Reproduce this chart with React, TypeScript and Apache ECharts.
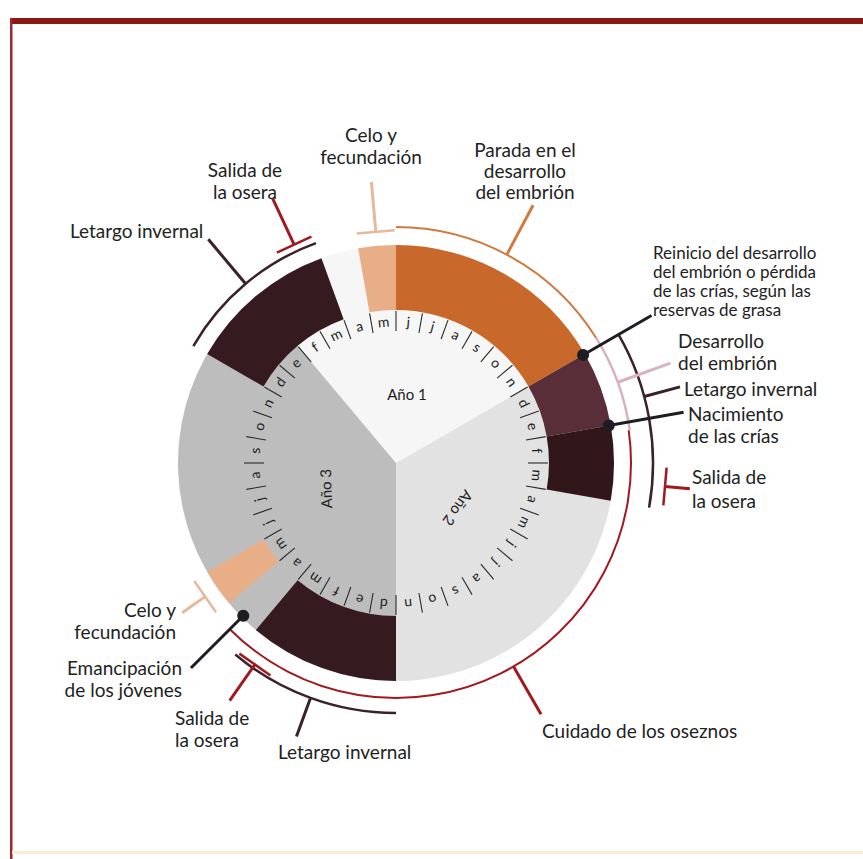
import React, { useEffect, useRef } from 'react';
import * as echarts from 'echarts';

// ---------------- data ----------------
// month index: 0 = start of January of "Año 1"; one full turn = 36 months
const monthLetters = ['e', 'f', 'm', 'a', 'm', 'j', 'j', 'a', 's', 'o', 'n', 'd'];
const yearNames = ['Año 1', 'Año 2', 'Año 3'];
const yearFrom = [1, 11, 23];
const yearTo = [11, 23, 37];
const yearLabelAt = [5.9, 17.6, 30.0];

// coloured season bands (month from / to)
const bandFrom = [-1, 4, 5, 11, 13, 23, 28];
const bandTo = [3, 5, 11, 13, 15, 27, 29];
const bandKind = ['letargo', 'celo', 'parada', 'desarrollo', 'nacimiento', 'letargo', 'celo'];

// outer period arcs
const arcFrom = [-1, 5, 10.8, 13.2, 11, 23];
const arcTo = [3, 10.8, 13.2, 27.5, 15, 27];
const arcKind = ['letargo', 'parada', 'desarrollo', 'cuidado', 'letargo', 'letargo'];

// single events drawn as "T" markers
const eventAt = [2.5, 4.5, 14.5, 26.5, 28.5];
const eventKind = ['salida', 'celo', 'salida', 'salida', 'celo'];

// events drawn as dots
const dotAt = [11, 13, 27.5];

// radial callout lines
const leaderAt = [1, 7.8, 11, 12, 12.5, 13, 20, 25, 27.5];
const leaderKind = ['letargo', 'parada', 'punto', 'desarrollo', 'letargo', 'punto', 'cuidado', 'letargo', 'punto'];

// label texts
const labelTexts = [
  'Celo y\nfecundación',
  'Parada en el\ndesarrollo\ndel embrión',
  'Reinicio del desarrollo\ndel embrión o pérdida\nde las crías, según las\nreservas de grasa',
  'Desarrollo\ndel embrión',
  'Letargo invernal',
  'Nacimiento\nde las crías',
  'Salida de\nla osera',
  'Cuidado de los oseznos',
  'Letargo invernal',
  'Salida de\nla osera',
  'Emancipación\nde los jóvenes',
  'Celo y\nfecundación',
  'Letargo invernal',
  'Salida de\nla osera',
];

// ---------------- layout / style ----------------
const CX = 396, CY = 463;
const R_MAX = 300;
const R_PIE = 218, R_BAND0 = 153, R_LETTER = 142, R_TICK0 = 132, R_TICK1 = 152, R_DOT = 216;
const FONT = 'Lato, "Open Sans", sans-serif';

const yearColors = ['#f6f6f6', '#e2e2e2', '#bdbdbd'];
const yearLabelR = [70, 77, 75];
const yearLabelRot = [0, 126, 268];

const bandColors: Record<string, string> = {
  letargo: '#351a20', celo: '#e8ae88', parada: '#c8682b', desarrollo: '#5a2e38', nacimiento: '#31161a',
};
const lineColors: Record<string, string> = {
  letargo: '#3b2128', parada: '#d27a3e', desarrollo: '#d8b2bf', cuidado: '#a3181e',
  salida: '#9e1a20', celo: '#e7b99c', punto: '#1d1d23',
};
const arcR = [234, 236, 236, 235, 257, 250];
const arcW = [2.5, 2, 2.5, 2, 2.5, 2.5];
const eventR0 = [241, 232, 270, 246, 233];
const eventR1 = [292, 282, 295, 290, 261];
const eventHalf = 19;
const leaderR0 = [234, 236, R_DOT, 236, 257, R_DOT, 235, 250, R_DOT];
const leaderR1 = [292, 292, 295, 292, 294, 292, 290, 291, 290];

// x, y, align, lineHeight, fontSize
const labelPos: [number, number, string, number, number][] = [
  [371, 145, 'center', 22, 19],
  [525, 170, 'center', 21, 19],
  [653, 281, 'left', 19, 17],
  [678, 351, 'left', 22, 19],
  [684, 388, 'left', 20, 19],
  [688, 424, 'left', 22, 19],
  [692, 488, 'left', 24, 19],
  [542, 730, 'left', 20, 19],
  [278, 751, 'left', 20, 19],
  [175, 728, 'left', 22, 19],
  [182, 678, 'right', 22, 19],
  [176, 620, 'right', 22, 19],
  [70, 230, 'left', 20, 19],
  [245, 180, 'center', 22, 19],
];

// ---------------- helpers (all through the polar scales) ----------------
function pt(api: any, m: number, r: number): number[] {
  const mm = ((m % 36) + 36) % 36;
  return api.coord([r, mm]);
}
function ang(p: number[], cx: number, cy: number) {
  return Math.atan2(p[1] - cy, p[0] - cx);
}
function sectorShape(api: any, cs: any, m0: number, m1: number, r0: number, r1: number) {
  const a = pt(api, m0, r1), b = pt(api, m1, r1), q = pt(api, m0, r0);
  const sa = ang(a, cs.cx, cs.cy);
  let ea = ang(b, cs.cx, cs.cy);
  while (ea <= sa + 1e-6) ea += Math.PI * 2;
  return {
    cx: cs.cx, cy: cs.cy,
    r0: Math.hypot(q[0] - cs.cx, q[1] - cs.cy),
    r: Math.hypot(a[0] - cs.cx, a[1] - cs.cy),
    startAngle: sa, endAngle: ea, clockwise: true,
  };
}
function idx(n: number) {
  return Array.from({ length: n }, (_, i) => [i, 0]);
}

export default function App() {
  const ref = useRef<HTMLDivElement>(null);
  useEffect(() => {
    if (!ref.current) return;
    const chart = echarts.init(ref.current, null, { renderer: 'svg' });
    const hidden = { show: false };
    const option: any = {
      animation: false,
      backgroundColor: '#ffffff',
      polar: { center: [CX, CY], radius: [0, R_MAX] },
      angleAxis: {
        type: 'value', min: 0, max: 36, startAngle: 140, clockwise: true,
        axisLine: hidden, axisTick: hidden, axisLabel: hidden, splitLine: hidden,
      },
      radiusAxis: {
        type: 'value', min: 0, max: R_MAX,
        axisLine: hidden, axisTick: hidden, axisLabel: hidden, splitLine: hidden,
      },
      series: [
        {
          type: 'custom', coordinateSystem: 'polar', name: 'años', silent: true,
          data: idx(yearNames.length),
          renderItem: (p: any, api: any) => ({
            type: 'sector',
            shape: sectorShape(api, p.coordSys, yearFrom[p.dataIndex], yearTo[p.dataIndex], 0, R_PIE),
            style: { fill: yearColors[p.dataIndex] },
          }),
        },
        {
          type: 'custom', coordinateSystem: 'polar', name: 'bandas', silent: true,
          data: idx(bandFrom.length),
          renderItem: (p: any, api: any) => ({
            type: 'sector',
            shape: sectorShape(api, p.coordSys, bandFrom[p.dataIndex], bandTo[p.dataIndex], R_BAND0, R_PIE),
            style: { fill: bandColors[bandKind[p.dataIndex]] },
          }),
        },
        {
          type: 'custom', coordinateSystem: 'polar', name: 'meses', silent: true,
          data: idx(36),
          renderItem: (p: any, api: any) => {
            const i = p.dataIndex;
            const cs = p.coordSys;
            const c = pt(api, i + 0.5, R_LETTER);
            const phi = ang(c, cs.cx, cs.cy);
            const t0 = pt(api, i, R_TICK0), t1 = pt(api, i, R_TICK1);
            return {
              type: 'group',
              children: [
                {
                  type: 'line',
                  shape: { x1: t0[0], y1: t0[1], x2: t1[0], y2: t1[1] },
                  style: { stroke: '#2a2a2a', lineWidth: 1.1 },
                },
                {
                  type: 'text', x: c[0], y: c[1], rotation: -(phi + Math.PI / 2),
                  style: {
                    text: monthLetters[i % 12], fill: '#222', font: `14px ${FONT}`,
                    align: 'center', verticalAlign: 'middle', textAlign: 'center', textVerticalAlign: 'middle',
                  },
                },
              ],
            };
          },
        },
        {
          type: 'custom', coordinateSystem: 'polar', name: 'rótulos años', silent: true,
          data: idx(yearNames.length),
          renderItem: (p: any, api: any) => {
            const i = p.dataIndex;
            const c = pt(api, yearLabelAt[i], yearLabelR[i]);
            return {
              type: 'text', x: c[0], y: c[1], rotation: -yearLabelRot[i] * Math.PI / 180,
              style: {
                text: yearNames[i], fill: '#222', font: `15px ${FONT}`,
                align: 'center', verticalAlign: 'middle', textAlign: 'center', textVerticalAlign: 'middle',
              },
            };
          },
        },
        {
          type: 'custom', coordinateSystem: 'polar', name: 'periodos', silent: true,
          data: idx(arcFrom.length),
          renderItem: (p: any, api: any) => {
            const i = p.dataIndex;
            const s = sectorShape(api, p.coordSys, arcFrom[i], arcTo[i], arcR[i], arcR[i]);
            return {
              type: 'arc',
              shape: { cx: s.cx, cy: s.cy, r: s.r, startAngle: s.startAngle, endAngle: s.endAngle, clockwise: true },
              style: { stroke: lineColors[arcKind[i]], lineWidth: arcW[i], fill: 'none' },
            };
          },
        },
        {
          type: 'custom', coordinateSystem: 'polar', name: 'líneas', silent: true,
          data: idx(leaderAt.length),
          renderItem: (p: any, api: any) => {
            const i = p.dataIndex;
            const a = pt(api, leaderAt[i], leaderR0[i]), b = pt(api, leaderAt[i], leaderR1[i]);
            return {
              type: 'line',
              shape: { x1: a[0], y1: a[1], x2: b[0], y2: b[1] },
              style: { stroke: lineColors[leaderKind[i]], lineWidth: 3 },
            };
          },
        },
        {
          type: 'custom', coordinateSystem: 'polar', name: 'eventos', silent: true,
          data: idx(eventAt.length),
          renderItem: (p: any, api: any) => {
            const i = p.dataIndex;
            const cs = p.coordSys;
            const a = pt(api, eventAt[i], eventR0[i]), b = pt(api, eventAt[i], eventR1[i]);
            const phi = ang(a, cs.cx, cs.cy);
            const tx = -Math.sin(phi) * eventHalf, ty = Math.cos(phi) * eventHalf;
            const col = lineColors[eventKind[i]];
            return {
              type: 'group',
              children: [
                { type: 'line', shape: { x1: a[0], y1: a[1], x2: b[0], y2: b[1] }, style: { stroke: col, lineWidth: 3 } },
                { type: 'line', shape: { x1: a[0] - tx, y1: a[1] - ty, x2: a[0] + tx, y2: a[1] + ty }, style: { stroke: col, lineWidth: 2.5 } },
              ],
            };
          },
        },
        {
          type: 'custom', coordinateSystem: 'polar', name: 'puntos', silent: true,
          data: idx(dotAt.length),
          renderItem: (p: any, api: any) => {
            const c = pt(api, dotAt[p.dataIndex], R_DOT);
            return { type: 'circle', shape: { cx: c[0], cy: c[1], r: 6 }, style: { fill: lineColors.punto } };
          },
        },
      ],
      graphic: {
        elements: [
          { type: 'rect', shape: { x: 10, y: 18, width: 853, height: 6 }, style: { fill: '#8c1717' }, silent: true },
          { type: 'rect', shape: { x: 10, y: 18, width: 2.5, height: 841 }, style: { fill: '#9c2a2a' }, silent: true },
          { type: 'rect', shape: { x: 12, y: 851, width: 851, height: 3 }, style: { fill: '#f8eed6' }, silent: true },
          ...labelTexts.map((t, i) => ({
            type: 'text', x: labelPos[i][0], y: labelPos[i][1], silent: true,
            style: {
              text: t, fill: '#222', font: `${labelPos[i][4]}px ${FONT}`, lineHeight: labelPos[i][3],
              align: labelPos[i][2], verticalAlign: 'middle',
              textAlign: labelPos[i][2], textVerticalAlign: 'middle',
            },
          })),
        ],
      },
    };
    chart.setOption(option);
    return () => chart.dispose();
  }, []);
  return (
    <div
      ref={ref}
      style={{ position: 'fixed', left: 0, top: 0, width: 863, height: 859, background: '#fff' }}
    />
  );
}
